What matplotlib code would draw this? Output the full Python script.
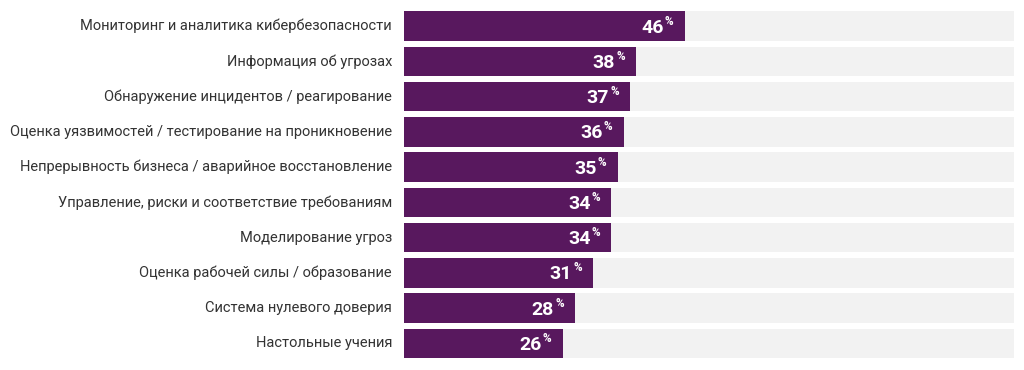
import matplotlib
matplotlib.use("Agg")
import matplotlib.pyplot as plt
from matplotlib.transforms import offset_copy

categories = [
    "Мониторинг и аналитика кибербезопасности",
    "Информация об угрозах",
    "Обнаружение инцидентов / реагирование",
    "Оценка уязвимостей / тестирование на проникновение",
    "Непрерывность бизнеса / аварийное восстановление",
    "Управление, риски и соответствие требованиям",
    "Моделирование угроз",
    "Оценка рабочей силы / образование",
    "Система нулевого доверия",
    "Настольные учения",
]
values = [46, 38, 37, 36, 35, 34, 34, 31, 28, 26]
track_max = 100

plt.rcParams['font.family'] = ['Roboto', 'DejaVu Sans']

W, H = 1024, 370
fig = plt.figure(figsize=(W / 100, H / 100), dpi=100)
ax = fig.add_axes([404 / W, 1 - 361.1 / H, (1014 - 404) / W, (361.1 - 8.4) / H])

purple = "#58185e"
track = "#f2f2f2"
ys = list(range(len(categories)))
bh = 0.836

ax.barh(ys, [track_max] * len(values), height=bh, color=track, linewidth=0)
ax.barh(ys, values, height=bh, color=purple, linewidth=0)

ax.set_xlim(0, track_max)
ax.set_ylim(len(categories) - 0.5, -0.5)
ax.axis("off")

for y, v, c in zip(ys, values, categories):
    ax.text(0, y, c, transform=offset_copy(ax.transData, fig=fig, x=-12, y=0, units="dots"),
            ha="right", va="center", fontsize=10.5, color="#333333")
    t1 = offset_copy(ax.transData, fig=fig, x=-11, y=5, units="dots")
    ax.text(v, y, "%", transform=t1, ha="right", va="center", fontsize=8.5,
            color="white", fontweight="bold")
    t2 = offset_copy(ax.transData, fig=fig, x=-21, y=-1.5, units="dots")
    ax.text(v, y, str(v), transform=t2, ha="right", va="center", fontsize=14,
            color="white", fontweight="bold")

fig.savefig("out.png", dpi=100, facecolor="white")
